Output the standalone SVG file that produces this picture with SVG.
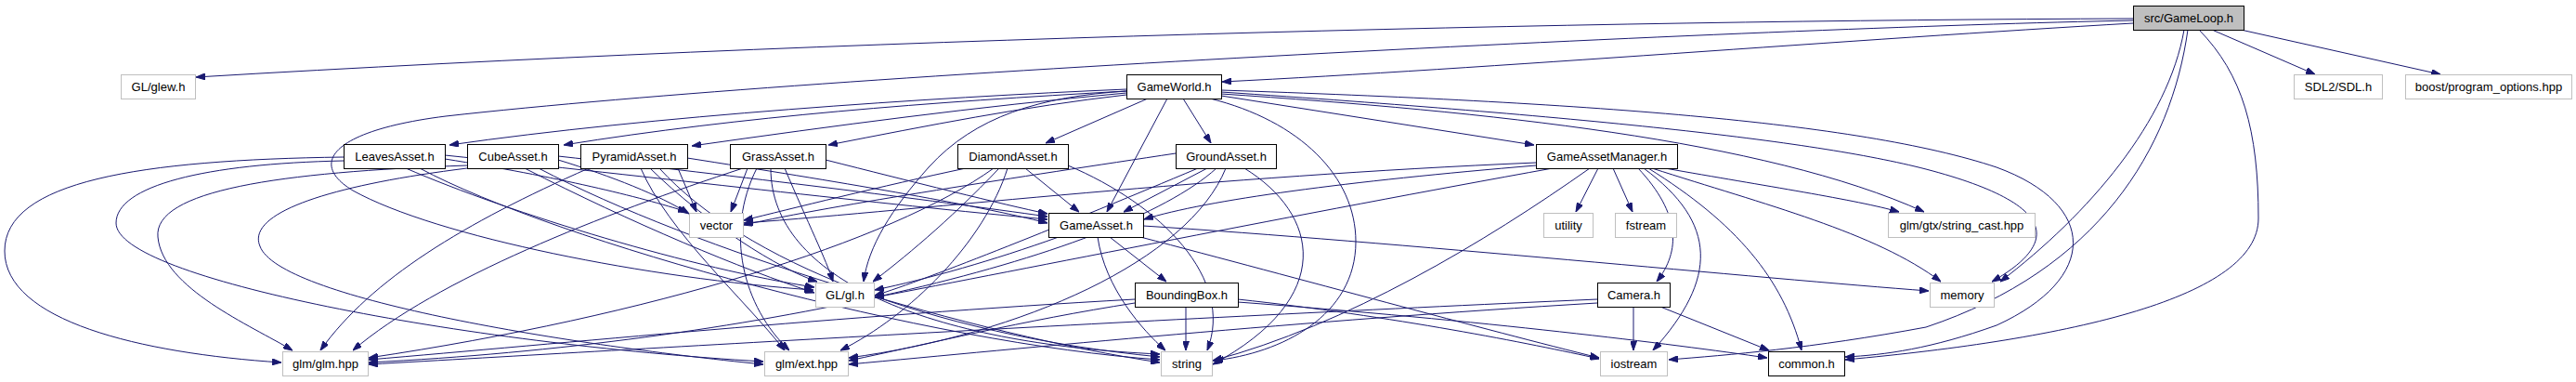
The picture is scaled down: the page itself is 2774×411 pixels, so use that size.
<svg xmlns="http://www.w3.org/2000/svg" width="2774" height="411" viewBox="0 0 2774 411">
<style>
.e{fill:none;stroke:#191970;stroke-width:1;marker-end:url(#a)}
.n rect{fill:#fff;stroke:#000;stroke-width:1}
.n.x rect{stroke:#bfbfbf}
.n.r rect{fill:#bfbfbf}
text{font-family:"Liberation Sans",Arial,sans-serif;font-size:13px;text-anchor:middle;fill:#000}
</style>
<defs>
<marker id="a" markerUnits="userSpaceOnUse" viewBox="0 0 10 7" refX="10" refY="3.5" markerWidth="10" markerHeight="7" orient="auto">
<path d="M0,0 L10,3.5 L0,7 z" fill="#191970" stroke="#191970"/>
</marker>
</defs>
<rect width="2774" height="411" fill="#fff"/>
<g id="edges">
<path class="e" d="M2297,20 C1700,22 900,42 211,83"/>
<path class="e" d="M2297,25 C2000,42 1600,74 1316,88"/>
<path class="e" d="M2297,22 C1900,30 900,78 480,125 C360,140 330,175 380,205 C470,255 700,300 876,312"/>
<path class="e" d="M2382,32 L2493,80"/>
<path class="e" d="M2413,32 L2628,80"/>
<path class="e" d="M2352,32 C2335,130 2250,230 2154,303"/>
<path class="e" d="M2356,32 C2338,160 2260,290 2074,352 C1950,375 1860,382 1797,387"/>
<path class="e" d="M2368,32 C2415,80 2432,140 2432,235 C2432,320 2230,365 1987,387"/>
<path class="e" d="M1213,96 C1000,105 700,125 484,156"/>
<path class="e" d="M1213,98 C1000,110 800,125 607,156"/>
<path class="e" d="M1213,100 C1050,115 900,135 745,157"/>
<path class="e" d="M1213,102 C1100,115 1000,135 892,156"/>
<path class="e" d="M1236,106 L1126,154"/>
<path class="e" d="M1257,106 L1192,228"/>
<path class="e" d="M1274,106 L1304,154"/>
<path class="e" d="M1213,98 C1120,104 1050,125 1000,180 C960,225 935,265 930,303"/>
<path class="e" d="M1303,106 C1400,130 1460,190 1460,260 C1460,340 1380,380 1307,388"/>
<path class="e" d="M1315,103 L1652,156"/>
<path class="e" d="M1315,101 C1600,120 1900,150 2072,228"/>
<path class="e" d="M1315,99 C1700,125 1950,150 2074,182 C2200,215 2230,255 2145,303"/>
<path class="e" d="M1315,97 C1700,110 2000,130 2150,180 C2260,220 2260,300 2150,350 C2080,375 2030,382 1987,384"/>
<path class="e" d="M370,169 C150,172 5,195 5,270 C5,345 150,380 303,390"/>
<path class="e" d="M370,173 C220,176 125,200 125,240 C125,300 500,370 822,389"/>
<path class="e" d="M437,181 C550,230 750,290 877,309"/>
<path class="e" d="M452,181 C600,260 1000,370 1249,387"/>
<path class="e" d="M479,171 C600,190 690,212 740,228"/>
<path class="e" d="M479,167 C700,190 950,220 1128,236"/>
<path class="e" d="M503,178 C300,185 165,205 170,255 C175,310 270,350 315,377"/>
<path class="e" d="M503,181 C350,200 265,230 280,265 C300,320 600,370 822,392"/>
<path class="e" d="M565,181 C680,240 800,290 877,315"/>
<path class="e" d="M580,181 C750,270 1050,360 1249,390"/>
<path class="e" d="M601,172 C660,190 710,210 742,230"/>
<path class="e" d="M601,168 C800,190 1000,215 1128,233"/>
<path class="e" d="M634,181 C500,240 400,300 345,377"/>
<path class="e" d="M690,181 C720,250 800,320 845,377"/>
<path class="e" d="M700,181 C760,240 840,290 880,303"/>
<path class="e" d="M710,181 C800,280 1000,360 1249,384"/>
<path class="e" d="M730,181 L750,228"/>
<path class="e" d="M740,170 C900,195 1050,220 1128,240"/>
<path class="e" d="M800,181 C650,230 470,300 380,377"/>
<path class="e" d="M815,181 C780,250 800,330 850,377"/>
<path class="e" d="M845,181 C870,240 890,280 897,303"/>
<path class="e" d="M830,181 C830,300 1000,370 1249,381"/>
<path class="e" d="M805,181 L787,228"/>
<path class="e" d="M889,172 C980,195 1080,220 1128,230"/>
<path class="e" d="M1070,181 C960,260 700,340 397,385"/>
<path class="e" d="M1085,181 C1060,260 980,340 905,377"/>
<path class="e" d="M1076,181 C1020,240 970,280 940,303"/>
<path class="e" d="M1150,178 C1250,220 1330,300 1300,377"/>
<path class="e" d="M1040,181 C950,200 850,225 801,237"/>
<path class="e" d="M1104,181 L1162,228"/>
<path class="e" d="M1310,181 C1200,280 800,370 397,390"/>
<path class="e" d="M1320,181 C1280,280 1100,360 914,385"/>
<path class="e" d="M1290,181 C1150,240 1000,300 942,318"/>
<path class="e" d="M1340,181 C1420,230 1440,320 1306,392"/>
<path class="e" d="M1266,165 C1100,190 900,220 801,242"/>
<path class="e" d="M1300,181 L1210,228"/>
<path class="e" d="M1140,255 C1070,280 1000,300 942,312"/>
<path class="e" d="M1182,255 C1190,310 1230,355 1255,377"/>
<path class="e" d="M1195,255 L1256,303"/>
<path class="e" d="M1231,243 C1500,260 1900,300 2077,313"/>
<path class="e" d="M1228,255 C1400,300 1600,355 1722,385"/>
<path class="e" d="M1222,322 C900,340 600,370 397,387"/>
<path class="e" d="M1222,326 C1100,345 1000,370 914,388"/>
<path class="e" d="M1277,330 L1277,377"/>
<path class="e" d="M1333,322 C1500,340 1650,370 1722,386"/>
<path class="e" d="M1333,325 C1600,345 1800,370 1903,385"/>
<path class="e" d="M1720,322 C1200,345 700,375 397,392"/>
<path class="e" d="M1720,326 C1400,345 1100,375 914,392"/>
<path class="e" d="M1759,330 L1759,377"/>
<path class="e" d="M1788,330 L1905,377"/>
<path class="e" d="M1654,175 C1300,190 1000,225 801,240"/>
<path class="e" d="M1654,178 C1450,195 1300,215 1232,236"/>
<path class="e" d="M1672,181 C1400,230 1100,290 942,320"/>
<path class="e" d="M1712,181 C1600,260 1450,350 1306,388"/>
<path class="e" d="M1721,181 L1697,228"/>
<path class="e" d="M1737,181 L1758,228"/>
<path class="e" d="M1764,181 C1810,230 1810,270 1784,303"/>
<path class="e" d="M1770,181 C1850,240 1850,300 1780,377"/>
<path class="e" d="M1775,181 C1870,240 1920,300 1940,377"/>
<path class="e" d="M1779,181 C1900,220 2020,250 2090,303"/>
<path class="e" d="M1793,181 C1900,200 2000,215 2045,228"/>
</g>
<g id="gameloop" class="n r"><rect x="2297.5" y="6.5" width="119" height="26"/><text x="2357" y="24">src/GameLoop.h</text></g>
<g id="glew" class="n x"><rect x="130.5" y="80.5" width="80" height="26"/><text x="170.5" y="98">GL/glew.h</text></g>
<g id="gameworld" class="n"><rect x="1213.5" y="80.5" width="102" height="26"/><text x="1264.5" y="98">GameWorld.h</text></g>
<g id="sdl" class="n x"><rect x="2470.5" y="80.5" width="95" height="26"/><text x="2518" y="98">SDL2/SDL.h</text></g>
<g id="boost" class="n x"><rect x="2590.5" y="80.5" width="179" height="26"/><text x="2680" y="98">boost/program_options.hpp</text></g>
<g id="leaves" class="n"><rect x="370.5" y="155.5" width="109" height="26"/><text x="425" y="173">LeavesAsset.h</text></g>
<g id="cube" class="n"><rect x="503.5" y="155.5" width="98" height="26"/><text x="552.5" y="173">CubeAsset.h</text></g>
<g id="pyramid" class="n"><rect x="625.5" y="155.5" width="115" height="26"/><text x="683" y="173">PyramidAsset.h</text></g>
<g id="grass" class="n"><rect x="786.5" y="155.5" width="103" height="26"/><text x="838" y="173">GrassAsset.h</text></g>
<g id="diamond" class="n"><rect x="1031.5" y="155.5" width="119" height="26"/><text x="1091" y="173">DiamondAsset.h</text></g>
<g id="ground" class="n"><rect x="1266.5" y="155.5" width="108" height="26"/><text x="1320.5" y="173">GroundAsset.h</text></g>
<g id="gam" class="n"><rect x="1654.5" y="155.5" width="152" height="26"/><text x="1730.5" y="173">GameAssetManager.h</text></g>
<g id="vector" class="n x"><rect x="742.5" y="229.5" width="58" height="26"/><text x="771.5" y="247">vector</text></g>
<g id="gameasset" class="n"><rect x="1129.5" y="229.5" width="102" height="26"/><text x="1180.5" y="247">GameAsset.h</text></g>
<g id="utility" class="n x"><rect x="1662.5" y="229.5" width="53" height="26"/><text x="1689" y="247">utility</text></g>
<g id="fstream" class="n x"><rect x="1739.5" y="229.5" width="66" height="26"/><text x="1772.5" y="247">fstream</text></g>
<g id="strcast" class="n x"><rect x="2033.5" y="229.5" width="158" height="26"/><text x="2112.5" y="247">glm/gtx/string_cast.hpp</text></g>
<g id="gl" class="n x"><rect x="878.5" y="304.5" width="63" height="26"/><text x="910" y="322">GL/gl.h</text></g>
<g id="bbox" class="n"><rect x="1222.5" y="304.5" width="111" height="26"/><text x="1278" y="322">BoundingBox.h</text></g>
<g id="camera" class="n"><rect x="1720.5" y="304.5" width="78" height="26"/><text x="1759.5" y="322">Camera.h</text></g>
<g id="memory" class="n x"><rect x="2078.5" y="304.5" width="69" height="26"/><text x="2113" y="322">memory</text></g>
<g id="glm" class="n x"><rect x="304.5" y="378.5" width="92" height="26"/><text x="350.5" y="396">glm/glm.hpp</text></g>
<g id="ext" class="n x"><rect x="823.5" y="378.5" width="90" height="26"/><text x="868.5" y="396">glm/ext.hpp</text></g>
<g id="string" class="n x"><rect x="1250.5" y="378.5" width="55" height="26"/><text x="1278" y="396">string</text></g>
<g id="iostream" class="n x"><rect x="1723.5" y="378.5" width="72" height="26"/><text x="1759.5" y="396">iostream</text></g>
<g id="common" class="n"><rect x="1904.5" y="378.5" width="82" height="26"/><text x="1945.5" y="396">common.h</text></g>
</svg>
